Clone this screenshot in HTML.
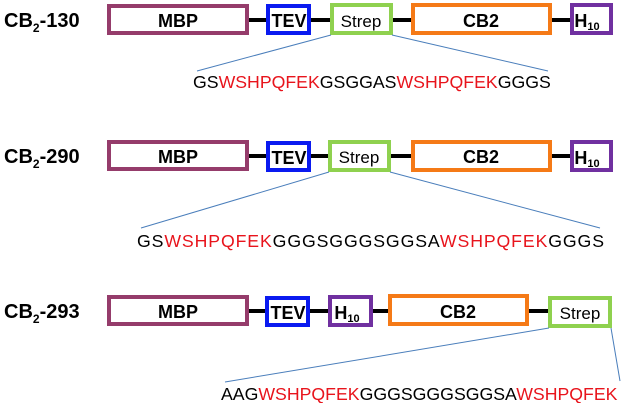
<!DOCTYPE html>
<html><head><style>
body{margin:0;background:#fff}
svg text{font-family:"Liberation Sans",Arial,sans-serif}
</style></head><body>
<svg width="623" height="403" viewBox="0 0 623 403" xmlns="http://www.w3.org/2000/svg">
<g font-weight="bold" font-size="20" fill="#000">
<text x="4" y="27">CB<tspan font-size="12" dy="5">2</tspan><tspan dy="-5">-130</tspan></text>
<text x="4" y="163">CB<tspan font-size="12" dy="5">2</tspan><tspan dy="-5">-290</tspan></text>
<text x="4" y="318">CB<tspan font-size="12" dy="5">2</tspan><tspan dy="-5">-293</tspan></text>
</g>
<!-- Row 1 -->
<g stroke-width="4" fill="#fff">
<line x1="247" y1="20" x2="570" y2="20" stroke="#000"/>
<rect x="109" y="6" width="138" height="27" stroke="#953C6B"/>
<rect x="268" y="6" width="41" height="27" stroke="#0A1AF0"/>
<rect x="332" y="5" width="59" height="28" stroke="#8FD14F"/>
<rect x="413" y="5" width="137" height="28" stroke="#F57A17"/>
<rect x="572" y="5" width="39" height="28" stroke="#7030A0"/>
</g>
<g stroke="#4A7EBB" stroke-width="1"><line x1="331" y1="35" x2="197" y2="71"/><line x1="392" y1="35" x2="548" y2="71"/></g>
<g font-size="18" font-weight="bold" text-anchor="middle">
<text x="178" y="27">MBP</text><text x="289" y="27">TEV</text><text x="481" y="27">CB2</text>
<text x="587" y="27">H<tspan font-size="11" dy="3">10</tspan></text>
</g>
<text x="361" y="27" font-size="17" text-anchor="middle">Strep</text>
<text x="193" y="88" font-size="17.7">GS<tspan fill="#E8141C">WSHPQFEK</tspan>GSGGAS<tspan fill="#E8141C">WSHPQFEK</tspan>GGGS</text>
<!-- Row 2 -->
<g stroke-width="4" fill="#fff">
<line x1="247" y1="156" x2="570" y2="156" stroke="#000"/>
<rect x="109" y="142" width="138" height="27" stroke="#953C6B"/>
<rect x="268" y="143" width="41" height="27" stroke="#0A1AF0"/>
<rect x="330" y="142" width="59" height="28" stroke="#8FD14F"/>
<rect x="413" y="142" width="137" height="28" stroke="#F57A17"/>
<rect x="572" y="142" width="39" height="28" stroke="#7030A0"/>
</g>
<g stroke="#4A7EBB" stroke-width="1"><line x1="329" y1="172" x2="141" y2="228"/><line x1="390" y1="172" x2="600" y2="228"/></g>
<g font-size="18" font-weight="bold" text-anchor="middle">
<text x="178" y="163">MBP</text><text x="289" y="164">TEV</text><text x="481" y="163">CB2</text>
<text x="587" y="164">H<tspan font-size="11" dy="3">10</tspan></text>
</g>
<text x="359" y="163" font-size="17" text-anchor="middle">Strep</text>
<text x="137" y="247" font-size="17.7" textLength="467" lengthAdjust="spacing">GS<tspan fill="#E8141C">WSHPQFEK</tspan>GGGSGGGSGGSA<tspan fill="#E8141C">WSHPQFEK</tspan>GGGS</text>
<!-- Row 3 -->
<g stroke-width="4" fill="#fff">
<line x1="247" y1="311" x2="548" y2="311" stroke="#000"/>
<rect x="109" y="297" width="138" height="27" stroke="#953C6B"/>
<rect x="267" y="298" width="41" height="27" stroke="#0A1AF0"/>
<rect x="330" y="297" width="41" height="28" stroke="#7030A0"/>
<rect x="390" y="296" width="137" height="28" stroke="#F57A17"/>
<rect x="550" y="298" width="60" height="28" stroke="#8FD14F"/>
</g>
<g stroke="#4A7EBB" stroke-width="1"><line x1="549" y1="328" x2="225" y2="382"/><line x1="611" y1="328" x2="620" y2="381"/></g>
<g font-size="18" font-weight="bold" text-anchor="middle">
<text x="178" y="318">MBP</text><text x="288" y="319">TEV</text><text x="458" y="318">CB2</text>
<text x="347" y="319">H<tspan font-size="11" dy="3">10</tspan></text>
</g>
<text x="580" y="319" font-size="17" text-anchor="middle">Strep</text>
<text x="221" y="400" font-size="17.7">AAG<tspan fill="#E8141C">WSHPQFEK</tspan>GGGSGGGSGGSA<tspan fill="#E8141C">WSHPQFEK</tspan></text>
</svg>
</body></html>
